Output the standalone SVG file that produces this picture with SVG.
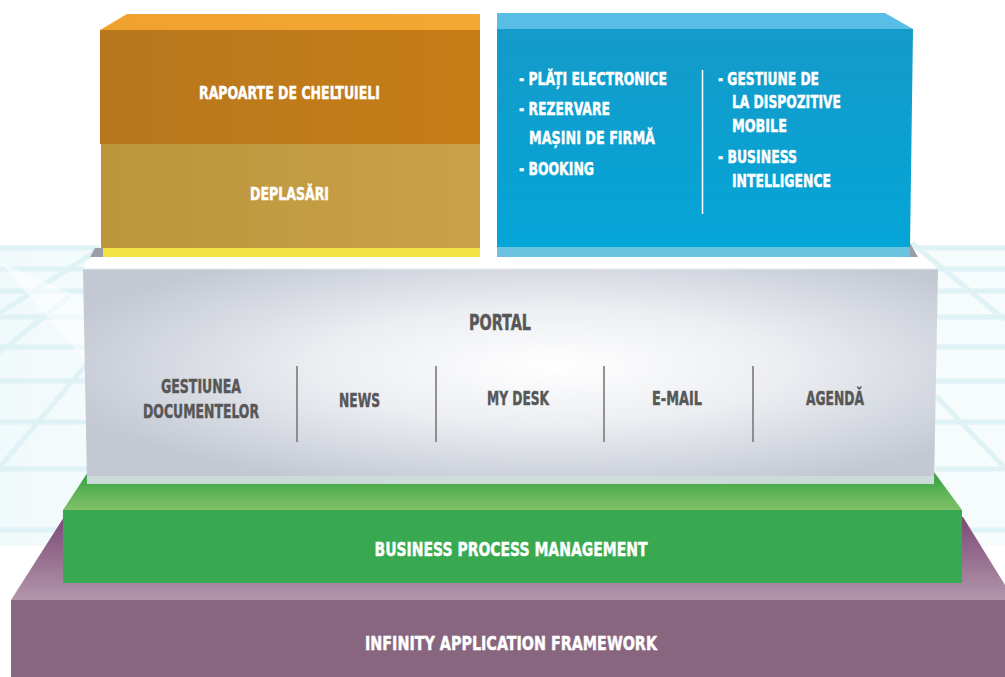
<svg xmlns="http://www.w3.org/2000/svg" width="1005" height="677" viewBox="0 0 1005 677">
<style>
.t{font-family:"Liberation Sans Narrow","DejaVu Sans Condensed","Liberation Sans",sans-serif;font-weight:bold;fill:#ffffff;stroke:#ffffff;stroke-width:0.45}
.g{fill:#575757;stroke:#575757}
.grid{stroke:#dff2f5;stroke-width:5;fill:none}
.div{stroke:#7a7a7a;stroke-width:1.6}
</style>
<defs>
<linearGradient id="orTop" x1="0" y1="0" x2="1" y2="0"><stop offset="0" stop-color="#f0a22e"/><stop offset="1" stop-color="#f3a834"/></linearGradient>
<linearGradient id="orF" x1="0" y1="0" x2="1" y2="0"><stop offset="0" stop-color="#b7771d"/><stop offset="1" stop-color="#c77d17"/></linearGradient>
<linearGradient id="tanF" x1="0" y1="0" x2="1" y2="0"><stop offset="0" stop-color="#bb963a"/><stop offset="1" stop-color="#cba04a"/></linearGradient>
<linearGradient id="blF" x1="0" y1="0" x2="0" y2="1"><stop offset="0" stop-color="#149bc9"/><stop offset="1" stop-color="#04a5d7"/></linearGradient>
<radialGradient id="portalF" cx="0.55" cy="0.45" r="0.6"><stop offset="0" stop-color="#ffffff"/><stop offset="0.45" stop-color="#eceef2"/><stop offset="1" stop-color="#c3c8d3"/></radialGradient>
<linearGradient id="grTop" x1="0" y1="0" x2="0" y2="1"><stop offset="0" stop-color="#2f9d3c"/><stop offset="0.55" stop-color="#5fb458"/><stop offset="1" stop-color="#80c068"/></linearGradient>
<linearGradient id="puTop" x1="0" y1="0" x2="0" y2="1"><stop offset="0" stop-color="#7b4a79"/><stop offset="0.6" stop-color="#9c7795"/><stop offset="1" stop-color="#b397ac"/></linearGradient>
<linearGradient id="bgL" x1="0" y1="0" x2="1" y2="0"><stop offset="0" stop-color="#f0f9fb"/><stop offset="1" stop-color="#f5fbfc"/></linearGradient>
</defs>

<rect width="1005" height="677" fill="#ffffff"/>

<g id="background">
<rect x="0" y="246" width="100" height="300" fill="url(#bgL)"/>
<rect x="905" y="246" width="100" height="300" fill="#f6fbfc"/>
<g class="grid">
<path d="M0 248H100M0 269H90M0 291H90M0 317H90M0 347H90M0 381H90M0 422H90M0 469H90M0 530H70"/>
<path d="M912 248H1005M935 269H1005M935 291H1005M935 317H1005M935 347H1005M935 381H1005M935 422H1005M935 469H1005M950 530H1005"/>
<path d="M98 250L0 313M86 365L0 467M70 296L0 352"/>
<path d="M912 243L1005 320M936 396L1005 468"/>
</g>
<path d="M0 262L86 362L86 300Z" fill="#ffffff" opacity="0.5"/>
</g>

<g id="infinity-application-framework">
<path d="M64 517H963L1005 585V600H11Z" fill="url(#puTop)"/>
<rect x="11" y="600" width="1000" height="77" fill="#88667f"/>
<text class="t" x="511" y="650" font-size="20" text-anchor="middle" textLength="292" lengthAdjust="spacingAndGlyphs">INFINITY APPLICATION FRAMEWORK</text>
</g>

<g id="business-process-management">
<path d="M88 472H934L962 510H63Z" fill="url(#grTop)"/>
<rect x="63" y="510" width="899" height="73" fill="#39a951"/>
<text class="t" x="511" y="556" font-size="20" text-anchor="middle" textLength="273" lengthAdjust="spacingAndGlyphs">BUSINESS PROCESS MANAGEMENT</text>
</g>

<g id="portal">
<path d="M98 248H913L938 269H83Z" fill="#ffffff"/>
<path d="M83 269H938L934 484H87Z" fill="url(#portalF)"/>
<rect x="87" y="476" width="847" height="8" fill="#cfe2dd" opacity="0.7"/>
<path d="M83 269H938" stroke="#e4e7ee" stroke-width="1"/>
<text class="t g" x="500" y="330" font-size="21" text-anchor="middle" textLength="62" lengthAdjust="spacingAndGlyphs">PORTAL</text>
<text class="t g" x="201" y="393" font-size="19" text-anchor="middle" textLength="80" lengthAdjust="spacingAndGlyphs">GESTIUNEA</text>
<text class="t g" x="201" y="418" font-size="19" text-anchor="middle" textLength="116" lengthAdjust="spacingAndGlyphs">DOCUMENTELOR</text>
<text class="t g" x="359.5" y="407" font-size="19" text-anchor="middle" textLength="41" lengthAdjust="spacingAndGlyphs">NEWS</text>
<text class="t g" x="518" y="405" font-size="19" text-anchor="middle" textLength="62" lengthAdjust="spacingAndGlyphs">MY DESK</text>
<text class="t g" x="677" y="405" font-size="19" text-anchor="middle" textLength="50" lengthAdjust="spacingAndGlyphs">E-MAIL</text>
<text class="t g" x="835" y="405" font-size="19" text-anchor="middle" textLength="58" lengthAdjust="spacingAndGlyphs">AGENDĂ</text>
<path class="div" d="M297 366V442M436 366V442M604 366V442M753 366V442"/>
</g>

<g id="rapoarte-deplasari">
<path d="M95 248L103 248V257L90 257Z" fill="#9a9ea8"/>
<path d="M100 30L127 14H480V30Z" fill="url(#orTop)"/>
<rect x="100" y="30" width="380" height="114" fill="url(#orF)"/>
<rect x="101" y="144" width="379" height="104" fill="url(#tanF)"/>
<rect x="103" y="248" width="377" height="9" fill="#f2e443"/>
<text class="t" x="289.5" y="99" font-size="18" text-anchor="middle" textLength="181" lengthAdjust="spacingAndGlyphs">RAPOARTE DE CHELTUIELI</text>
<text class="t" x="289.5" y="200" font-size="18" text-anchor="middle" textLength="79" lengthAdjust="spacingAndGlyphs">DEPLASĂRI</text>
</g>

<g id="servicii">
<path d="M910 243L918 257H910Z" fill="#9a9ea8"/>
<path d="M497 13H885L913 29H497Z" fill="#59bee6"/>
<path d="M497 29H913L910 247H497Z" fill="url(#blF)"/>
<rect x="497" y="247" width="413" height="10" fill="#6bc3df"/>
<text class="t" x="519" y="85" font-size="18" textLength="148" lengthAdjust="spacingAndGlyphs">- PLĂȚI ELECTRONICE</text>
<text class="t" x="519" y="115" font-size="18" textLength="91" lengthAdjust="spacingAndGlyphs">- REZERVARE</text>
<text class="t" x="529" y="144" font-size="18" textLength="126" lengthAdjust="spacingAndGlyphs">MAȘINI DE FIRMĂ</text>
<text class="t" x="519" y="175" font-size="18" textLength="75" lengthAdjust="spacingAndGlyphs">- BOOKING</text>
<text class="t" x="718" y="85" font-size="18" textLength="101" lengthAdjust="spacingAndGlyphs">- GESTIUNE DE</text>
<text class="t" x="732" y="108" font-size="18" textLength="109" lengthAdjust="spacingAndGlyphs">LA DISPOZITIVE</text>
<text class="t" x="732" y="132" font-size="18" textLength="55" lengthAdjust="spacingAndGlyphs">MOBILE</text>
<text class="t" x="718" y="163" font-size="18" textLength="79" lengthAdjust="spacingAndGlyphs">- BUSINESS</text>
<text class="t" x="732" y="187" font-size="18" textLength="99" lengthAdjust="spacingAndGlyphs">INTELLIGENCE</text>
<path d="M702.5 70V214" stroke="#ffffff" stroke-width="1.5"/>
</g>
</svg>
